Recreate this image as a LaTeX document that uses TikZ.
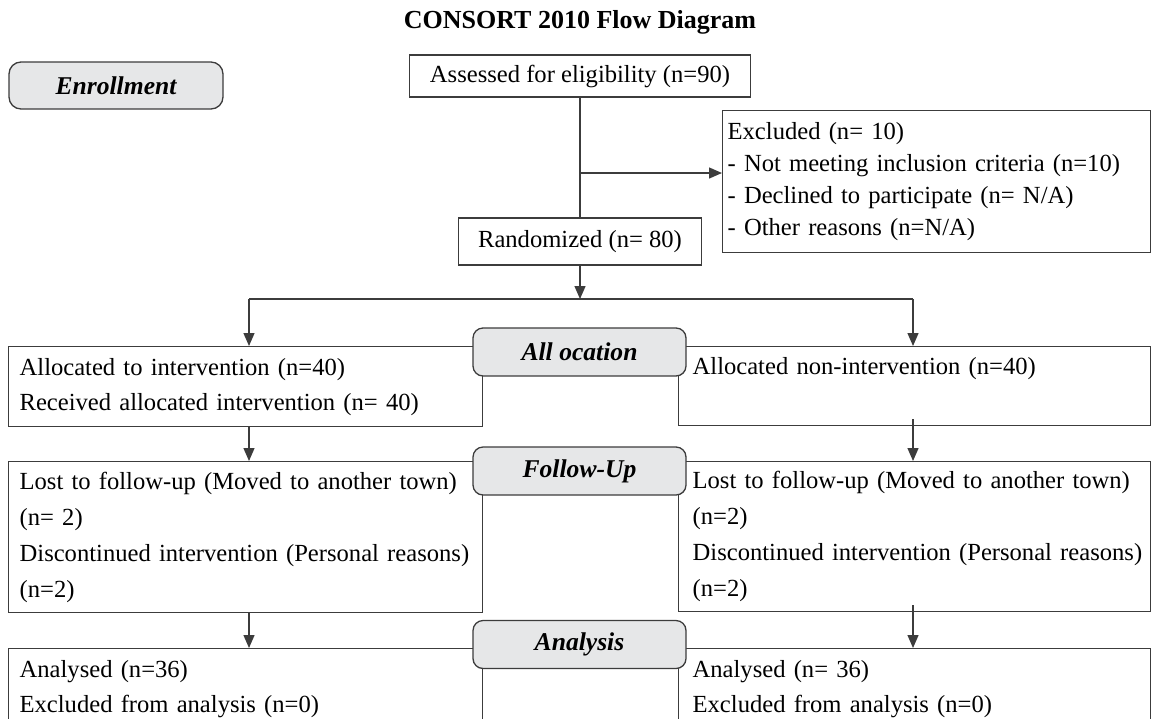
\documentclass[tikz,border=0pt]{standalone}
\usepackage{fontspec}
\setmainfont{Liberation Serif}
\usetikzlibrary{arrows.meta}
\definecolor{phasegray}{HTML}{E6E7E8}
\definecolor{linegray}{HTML}{3C3C3C}

\begin{document}
\begin{tikzpicture}[x=0.5pt, y=-0.5pt,
    every node/.style={font=\fontsize{12.3}{17.5}\selectfont},
    flowbox/.style={draw=linegray, line width=0.65pt, fill=white, anchor=north west,
        align=left, inner xsep=2.5pt, inner ysep=0pt},
    leftbox/.style={flowbox, minimum width=237pt, text width=232pt,
        execute at begin node={\leftskip=3pt}},
    rightbox/.style={flowbox, minimum width=236pt, text width=231pt,
        execute at begin node={\leftskip=4.5pt}},
    phase/.style={draw=linegray, line width=0.65pt, fill=phasegray, rounded corners=5pt,
        minimum width=106.5pt, minimum height=24pt, inner sep=0pt,
        font=\fontsize{12.8}{15}\selectfont\bfseries\itshape},
    link/.style={draw=linegray, line width=0.65pt},
    arr/.style={link, -{Triangle[length=6.5pt, width=5.5pt]}}]

    \useasboundingbox (0,0) rectangle (1154,718);
    \clip (0,0) rectangle (1154,718);

    % Title
    \node[font=\fontsize{13}{15}\selectfont\bfseries] (title) at (580,22) {CONSORT 2010 Flow Diagram};

    % Enrollment
    \node[phase, minimum width=107pt, minimum height=23.5pt, rounded corners=6pt] (enroll) at (116,85.5) {Enrollment};
    \node[flowbox, anchor=center, inner xsep=5pt, minimum width=170.5pt, minimum height=21pt] (assess) at (580,76)
        {Assessed for eligibility (n=90)};
    \node[flowbox, minimum width=214pt, minimum height=71pt, text width=209pt,
        font=\fontsize{12.3}{16}\selectfont] (excl) at (722,110)
        {Excluded (n= 10)\\- Not meeting inclusion criteria (n=10)\\- Declined to participate (n= N/A)\\- Other reasons (n=N/A)};
    \node[flowbox, anchor=center, inner xsep=5pt, minimum width=121.5pt, minimum height=23.5pt] (rand) at (580,241.5)
        {Randomized (n= 80)};

    % Allocation
    \node[leftbox, minimum height=40pt] (allocL) at (8,346)
        {Allocated to intervention (n=40)\\Received allocated intervention (n= 40)};
    \node[rightbox, text height=14pt, text depth=25.5pt] (allocR) at (678,346)
        {Allocated non-intervention (n=40)};

    % Follow-up
    \node[leftbox, minimum height=75.5pt, font=\fontsize{12.3}{18}\selectfont] (folL) at (8,461)
        {Lost to follow-up (Moved to another town)\\(n= 2)\\Discontinued intervention (Personal reasons)\\(n=2)};
    \node[rightbox, minimum height=75pt, font=\fontsize{12.3}{18}\selectfont] (folR) at (678,461)
        {Lost to follow-up (Moved to another town)\\(n=2)\\Discontinued intervention (Personal reasons)\\(n=2)};

    % Analysis
    \node[leftbox, minimum height=40pt] (anaL) at (8,648)
        {Analysed (n=36)\\Excluded from analysis (n=0)};
    \node[rightbox, minimum height=40pt] (anaR) at (678,648)
        {Analysed (n= 36)\\Excluded from analysis (n=0)};

    % Phase labels
    \node[phase] (allochd) at (579.5,352) {All ocation};
    \node[phase] (folhd) at (579.5,471) {Follow-Up};
    \node[phase] (anahd) at (579.5,644.5) {Analysis};

    % Connectors
    \coordinate (exbr) at (580,173);
    \coordinate (brL) at (249,299);
    \coordinate (brR) at (913,299);
    \draw[link] (assess.south) -- (rand.north);
    \draw[arr] (exbr) -- (exbr -| excl.west);
    \draw[arr] (rand.south) -- (rand.south |- brL);
    \draw[link] (brL) -- (brR);
    \draw[arr] (brL) -- (brL |- allocL.north);
    \draw[arr] (brR) -- (brR |- allocR.north);
    \draw[arr] (allocL.south -| brL) -- (brL |- folL.north);
    \draw[arr] ([yshift=3.5pt]allocR.south -| brR) -- (brR |- folR.north);
    \draw[arr] (folL.south -| brL) -- (brL |- anaL.north);
    \draw[arr] ([yshift=3.5pt]folR.south -| brR) -- (brR |- anaR.north);
\end{tikzpicture}
\end{document}
